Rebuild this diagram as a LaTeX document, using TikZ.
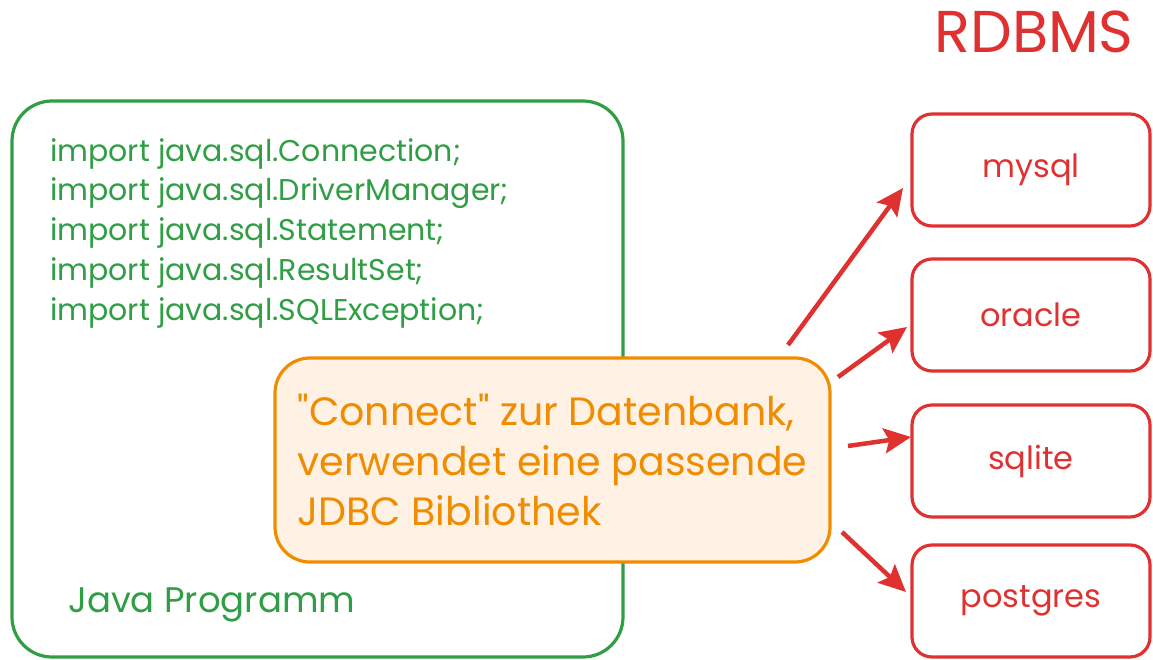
\documentclass[tikz,border=0pt]{standalone}
\usepackage{fontspec}
\setmainfont{Poppins}
\usetikzlibrary{arrows.meta}
\definecolor{exgreen}{HTML}{2F9E44}
\definecolor{exorange}{HTML}{F08C00}
\definecolor{exorangefill}{HTML}{FFF1E3}
\definecolor{exred}{HTML}{E03131}
\newcommand{\hfont}[1]{\fontsize{#1}{#1}\selectfont}
\tikzset{
  progbox/.style={draw=exgreen, line width=3.2pt, rounded corners=40pt, minimum width=611pt, minimum height=556pt, inner sep=0pt},
  codeline/.style={anchor=base west, text=exgreen, font=\hfont{30}, inner sep=0pt},
  notebox/.style={draw=exorange, fill=exorangefill, line width=3.2pt, rounded corners=35pt, minimum width=555pt, minimum height=204pt, align=left, text=exorange, font={\fontsize{39.5}{50}\selectfont}, inner sep=0pt},
  dbbox/.style={draw=exred, line width=3.2pt, rounded corners=20pt, minimum width=238pt, minimum height=112pt, text=exred, font=\hfont{32}, inner sep=0pt},
  conn/.style={draw=exred, line width=4.5pt, -{Stealth[length=27pt,width=25pt,inset=5pt]}}
}
\begin{document}
\begin{tikzpicture}[x=1pt,y=-1pt]
\useasboundingbox (0,0) rectangle (1153,660);
\node[progbox] (prog) at (317.5,379) {};
\node[codeline] (l1) at (50,162) {import java.sql.Connection;};
\node[codeline] (l2) at (50,201) {import java.sql.DriverManager;};
\node[codeline] (l3) at (50,241) {import java.sql.Statement;};
\node[codeline] (l4) at (50,280) {import java.sql.ResultSet;};
\node[codeline] (l5) at (50,320) {import java.sql.SQLException;};
\node[anchor=base west, text=exgreen, font=\hfont{35.5}, inner sep=0pt] (jp) at (68,612) {Java Programm};
\node[notebox] (note) at (552.5,460) {\textquotedbl Connect\textquotedbl{} zur Datenbank,\\verwendet eine passende\\JDBC Bibliothek};
\node[anchor=base, text=exred, font=\hfont{59}, inner sep=0pt] (rdbms) at (1034,53) {RDBMS};
\node[dbbox] (mysql) at (1031,170) {mysql};
\node[dbbox] (oracle) at (1031,315) {oracle};
\node[dbbox] (sqlite) at (1031,461) {sqlite};
\node[dbbox] (postgres) at (1031,601) {postgres};
\coordinate (s1) at (788,345);
\coordinate (t1) at (903,188);
\coordinate (s2) at (838,377);
\coordinate (t2) at (907,327);
\coordinate (s3) at (848,446);
\coordinate (t3) at (911,437);
\coordinate (s4) at (842,532);
\coordinate (t4) at (906,592);
\draw[conn] (s1) -- (t1);
\draw[conn] (s2) -- (t2);
\draw[conn] (s3) -- (t3);
\draw[conn] (s4) -- (t4);
\end{tikzpicture}
\end{document}
